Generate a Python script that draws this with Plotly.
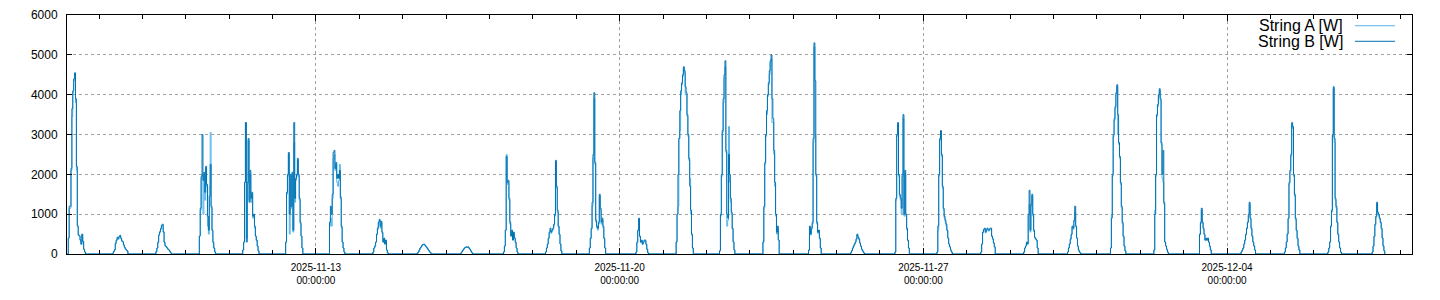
import pandas as pd
import plotly.graph_objects as go

# ---------------- data ----------------
STEP_MINUTES = 30

day_dates = [
    "2025-11-07", "2025-11-08", "2025-11-09", "2025-11-10", "2025-11-11", "2025-11-12",
    "2025-11-13", "2025-11-14", "2025-11-15", "2025-11-16", "2025-11-17", "2025-11-18",
    "2025-11-19", "2025-11-20", "2025-11-21", "2025-11-22", "2025-11-23", "2025-11-24",
    "2025-11-25", "2025-11-26", "2025-11-27", "2025-11-28", "2025-11-29", "2025-11-30",
    "2025-12-01", "2025-12-02", "2025-12-03", "2025-12-04", "2025-12-05", "2025-12-06",
    "2025-12-07",
]

day_first_sample = [
    "06:30", "07:30", "07:30", "07:30", "07:30", "07:15",
    "07:30", "07:30", "08:00", "08:00", "07:45", "07:00",
    "07:15", "09:00", "07:15", "07:15", "07:15", "08:30",
    "07:45", "08:15", "07:30", "07:45", "07:30", "07:45",
    "07:30", "07:30", "08:45", "07:45", "07:45", "07:45",
    "08:15",
]

string_b_w = [
    [0, 400, 1200, 1200, 2150, 3650, 4100, 4400, 4550, 3900, 2200, 700, 480, 460, 350, 250, 500, 320, 120, 50, 0],
    [20, 60, 110, 270, 350, 420, 390, 440, 470, 400, 330, 310, 230, 170, 130, 100, 70, 0],
    [60, 150, 300, 480, 560, 640, 720, 750, 560, 300, 200, 190, 150, 120, 100, 70, 30, 0],
    [450, 1150, 1950, 3000, 1850, 2050, 1550, 2200, 1750, 950, 600, 1450, 2250, 1200, 600, 300, 150, 50, 0],
    [100, 300, 1800, 3300, 300, 1800, 2900, 1300, 2100, 1400, 1550, 950, 1000, 700, 450, 350, 200, 80, 0],
    [300, 1550, 2000, 2550, 1000, 2000, 1200, 2050, 600, 3300, 1400, 1900, 2000, 2400, 2000, 1400, 800, 450, 150, 0],
    [800, 1200, 1000, 1500, 2550, 2600, 2150, 2300, 1900, 2000, 1900, 2100, 1400, 700, 300, 150, 50, 0],
    [50, 150, 200, 300, 500, 650, 800, 870, 700, 820, 550, 300, 400, 250, 350, 100, 30, 0],
    [20, 50, 100, 150, 180, 220, 240, 250, 230, 200, 170, 140, 100, 70, 40, 15, 0],
    [20, 50, 90, 120, 150, 170, 180, 170, 180, 150, 120, 80, 40, 15, 0],
    [50, 200, 600, 2450, 1800, 1850, 1400, 800, 450, 600, 350, 550, 400, 300, 150, 50, 0],
    [50, 150, 250, 400, 550, 650, 550, 600, 650, 750, 1000, 2350, 1700, 1100, 700, 500, 250, 80, 0],
    [150, 400, 650, 1300, 2500, 4050, 2300, 850, 700, 650, 800, 1500, 1150, 800, 900, 700, 400, 150, 0],
    [50, 300, 600, 900, 450, 300, 350, 250, 300, 350, 350, 250, 120, 30, 0],
    [300, 1000, 2000, 2900, 3600, 4100, 4300, 4500, 4700, 4600, 4200, 4050, 3500, 3000, 2400, 1700, 1100, 500, 150, 0],
    [80, 1000, 2000, 3100, 3900, 4500, 4850, 2600, 1000, 900, 2500, 2000, 1400, 1050, 650, 300, 100, 0],
    [300, 1200, 2300, 3000, 3600, 4000, 4300, 4600, 4850, 5000, 3900, 3400, 2600, 1800, 1000, 550, 700, 350, 0],
    [100, 700, 500, 650, 800, 2900, 5300, 4350, 2000, 800, 550, 600, 400, 150, 0],
    [30, 80, 150, 200, 250, 300, 380, 500, 430, 380, 280, 200, 120, 80, 40, 10, 0],
    [50, 1400, 3000, 3300, 2000, 1500, 1400, 1150, 2000, 3500, 1000, 2100, 1000, 650, 350, 150, 0],
    [50, 700, 2000, 2900, 3100, 2500, 1700, 1150, 950, 850, 750, 600, 400, 250, 180, 100, 50, 0],
    [50, 250, 550, 620, 650, 550, 620, 650, 600, 600, 650, 650, 450, 380, 280, 180, 0],
    [50, 150, 200, 300, 250, 1000, 1600, 600, 1250, 1500, 1000, 600, 420, 380, 350, 150, 0],
    [50, 150, 250, 380, 500, 700, 650, 850, 1200, 700, 400, 200, 100, 50, 20, 0],
    [150, 900, 2000, 3000, 3400, 3700, 4050, 4250, 3500, 2800, 2450, 1800, 1200, 800, 450, 200, 80, 0],
    [100, 1000, 2000, 3500, 3750, 4000, 4150, 3900, 2800, 2000, 2600, 1300, 300, 200, 120, 50, 0],
    [500, 800, 1150, 800, 650, 500, 350, 400, 350, 400, 300, 200, 100, 0],
    [50, 100, 150, 250, 350, 500, 650, 800, 1000, 1300, 900, 650, 450, 300, 200, 100, 0],
    [50, 150, 300, 500, 900, 1800, 2100, 2500, 3300, 3200, 2000, 1500, 900, 600, 400, 200, 100, 0],
    [50, 150, 300, 700, 1100, 3000, 4200, 2900, 1400, 1200, 800, 500, 300, 150, 50, 0],
    [50, 200, 450, 750, 950, 1300, 1050, 1000, 900, 800, 650, 400, 200, 80, 0],
]

string_a_w = [
    [0, 400, 1150, 1150, 2100, 3450, 4050, 4350, 4400, 3800, 2100, 700, 470, 450, 340, 240, 480, 310, 120, 50, 0],
    [20, 60, 100, 250, 330, 400, 370, 420, 450, 390, 320, 300, 220, 160, 120, 100, 70, 0],
    [60, 150, 280, 470, 540, 620, 700, 720, 540, 290, 200, 180, 150, 120, 100, 70, 30, 0],
    [450, 1100, 1900, 2000, 1000, 2000, 1350, 2150, 1700, 700, 500, 1700, 3050, 1150, 580, 280, 140, 50, 0],
    [100, 300, 1800, 3300, 400, 1750, 2850, 1350, 2000, 1300, 1500, 900, 950, 650, 450, 330, 200, 80, 0],
    [300, 1500, 1950, 2500, 500, 1950, 1150, 2000, 550, 2800, 1300, 1850, 1950, 2350, 1950, 1350, 750, 450, 150, 0],
    [700, 900, 700, 1400, 2400, 2500, 2100, 2250, 1800, 1700, 1850, 2250, 1450, 650, 300, 150, 50, 0],
    [50, 150, 200, 300, 480, 620, 780, 840, 650, 780, 520, 300, 380, 250, 300, 100, 30, 0],
    [20, 50, 95, 140, 175, 210, 235, 240, 225, 195, 165, 135, 100, 70, 40, 15, 0],
    [20, 45, 85, 115, 145, 165, 175, 165, 175, 145, 115, 80, 40, 15, 0],
    [50, 200, 600, 2500, 1750, 1800, 1350, 750, 450, 550, 350, 500, 400, 280, 150, 50, 0],
    [50, 150, 250, 380, 520, 600, 520, 580, 620, 720, 950, 2300, 1650, 1050, 680, 480, 250, 80, 0],
    [150, 380, 620, 1200, 2400, 3900, 2250, 800, 650, 600, 750, 1450, 1100, 750, 850, 650, 380, 150, 0],
    [50, 280, 580, 870, 430, 290, 330, 240, 290, 330, 330, 240, 120, 30, 0],
    [300, 1000, 1200, 2900, 3100, 4000, 4250, 4450, 4650, 4550, 4000, 4000, 3450, 2950, 2350, 1900, 1000, 480, 150, 0],
    [80, 950, 1950, 3050, 3800, 4400, 4700, 2550, 700, 850, 3200, 1800, 1300, 1000, 620, 300, 100, 0],
    [300, 1150, 2250, 2950, 3500, 3950, 4250, 4500, 4800, 4900, 3300, 3300, 2500, 1700, 950, 500, 650, 350, 0],
    [100, 650, 480, 620, 750, 2800, 5200, 3000, 1950, 750, 520, 580, 380, 150, 0],
    [30, 80, 140, 190, 240, 290, 360, 480, 410, 360, 270, 190, 120, 80, 40, 10, 0],
    [50, 1350, 2950, 3250, 1950, 1450, 1350, 1000, 1950, 3400, 950, 2000, 950, 600, 330, 150, 0],
    [50, 600, 1950, 2850, 3050, 2450, 1650, 1100, 900, 800, 700, 580, 400, 250, 180, 100, 50, 0],
    [50, 250, 530, 600, 620, 530, 600, 620, 580, 580, 620, 620, 430, 370, 270, 170, 0],
    [50, 150, 200, 280, 250, 950, 1250, 550, 1200, 1450, 950, 560, 400, 370, 330, 150, 0],
    [50, 150, 250, 360, 480, 680, 620, 820, 1050, 680, 400, 200, 100, 50, 20, 0],
    [150, 1000, 1950, 2950, 3350, 3650, 4000, 4200, 3000, 2750, 2400, 1750, 1150, 750, 430, 200, 80, 0],
    [100, 1100, 1950, 3450, 3700, 3950, 4100, 3850, 2750, 1900, 1800, 1250, 300, 200, 120, 50, 0],
    [480, 760, 1100, 770, 620, 480, 340, 380, 340, 380, 290, 190, 100, 0],
    [50, 100, 150, 250, 350, 480, 630, 780, 950, 1250, 880, 620, 430, 300, 200, 100, 0],
    [50, 150, 300, 500, 880, 1750, 2050, 2450, 3250, 3150, 1950, 1450, 850, 580, 380, 200, 100, 0],
    [50, 150, 300, 680, 1050, 2950, 4150, 2800, 1350, 1150, 780, 480, 300, 150, 50, 0],
    [50, 200, 430, 720, 920, 1250, 1000, 950, 880, 780, 620, 400, 200, 80, 0],
]

series_names = ["String A [W]", "String B [W]"]
x_range = ["2025-11-07 06:18", "2025-12-08 06:18"]
y_range = [0, 6000]
major_tick0 = "2025-11-13"

# ---------------- build time axis ----------------
times, a_vals, b_vals = [], [], []
for date, first, a_day, b_day in zip(day_dates, day_first_sample, string_a_w, string_b_w):
    t0 = pd.Timestamp(f"{date} {first}")
    n = min(len(a_day), len(b_day))
    for i in range(n):
        times.append(t0 + pd.Timedelta(minutes=STEP_MINUTES * i))
        a_vals.append(a_day[i])
        b_vals.append(b_day[i])

COLOR_A = "#56b4e9"
COLOR_B = "#0072b2"

fig = go.Figure()
fig.add_trace(go.Scatter(x=times, y=a_vals, mode="lines", name=series_names[0],
                         line=dict(color=COLOR_A, width=1, shape="hv"), showlegend=False))
fig.add_trace(go.Scatter(x=times, y=b_vals, mode="lines", name=series_names[1],
                         line=dict(color=COLOR_B, width=1, shape="hv"), showlegend=False))

GRID = "#a0a0a0"
DAY_MS = 86400000

fig.update_layout(
    width=1440, height=300,
    margin=dict(l=67, r=28, t=15, b=46, autoexpand=False),
    plot_bgcolor="white", paper_bgcolor="white",
    font=dict(family="Liberation Sans", color="black"),
    showlegend=False,
    xaxis=dict(
        type="date", range=x_range, automargin=False,
        showline=True, linecolor="black", linewidth=1, mirror="ticks",
        ticks="inside", ticklen=6, tickcolor="black",
        tick0=major_tick0, dtick=7 * DAY_MS,
        tickformat="%Y-%m-%d<br>%H:%M:%S",
        tickfont=dict(size=10, family="Liberation Sans", color="black"),
        ticklabelstandoff=4,
        showgrid=True, gridcolor=GRID, gridwidth=1, griddash="3px,3px",
        minor=dict(tick0="2025-11-07", dtick=DAY_MS, ticks="inside", ticklen=4,
                   tickcolor="black", showgrid=False),
        zeroline=False, layer="above traces",
    ),
    yaxis=dict(
        range=y_range, dtick=1000, automargin=False,
        showline=True, linecolor="black", linewidth=1, mirror="ticks",
        ticks="inside", ticklen=5, tickcolor="black",
        tickfont=dict(size=12, family="Liberation Sans", color="black"),
        ticklabelstandoff=6,
        showgrid=True, gridcolor=GRID, gridwidth=1, griddash="3px,3px",
        zeroline=False, layer="above traces",
    ),
)

# gnuplot-style key: text right-justified, sample line to its right
key_rows = [(series_names[0], COLOR_A, 0.955), (series_names[1], COLOR_B, 0.890)]
for label, color, ypos in key_rows:
    fig.add_annotation(xref="x domain", yref="y domain", x=0.9505, y=ypos,
                       text=label, showarrow=False, xanchor="right", yanchor="middle",
                       font=dict(family="Liberation Sans", size=16, color="black"))
    fig.add_shape(type="line", xref="x domain", yref="y domain",
                  x0=0.9576, x1=0.9874, y0=ypos, y1=ypos,
                  line=dict(color=color, width=1))

fig.write_html("out.html")
